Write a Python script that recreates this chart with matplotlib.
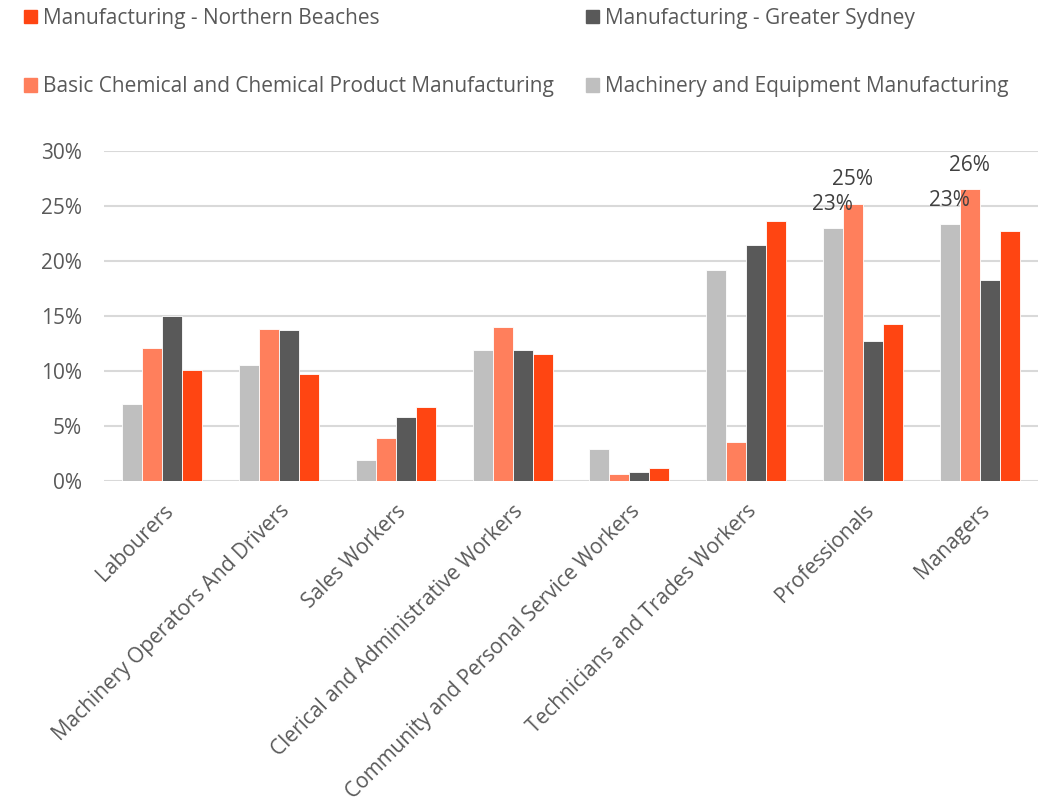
import numpy as np
import matplotlib.pyplot as plt
from matplotlib.patches import Patch
from matplotlib.ticker import PercentFormatter

plt.rcParams['font.family'] = ['Open Sans', 'DejaVu Sans']

# Occupation categories along the x axis
categories = [
    "Labourers",
    "Machinery Operators And Drivers",
    "Sales Workers",
    "Clerical and Administrative Workers",
    "Community and Personal Service Workers",
    "Technicians and Trades Workers",
    "Professionals",
    "Managers",
]

# Share of workforce by occupation (%)
machinery_equipment = [7.0, 10.5, 1.9, 11.9, 2.9, 19.2, 23.0, 23.3]
basic_chemical = [12.1, 13.8, 3.9, 14.0, 0.6, 3.5, 25.2, 26.5]
greater_sydney = [15.0, 13.7, 5.8, 11.9, 0.8, 21.4, 12.7, 18.3]
northern_beaches = [10.1, 9.7, 6.7, 11.5, 1.2, 23.6, 14.3, 22.7]

series_names = [
    "Machinery and Equipment Manufacturing",
    "Basic Chemical and Chemical Product Manufacturing",
    "Manufacturing - Greater Sydney",
    "Manufacturing - Northern Beaches",
]
series_values = [machinery_equipment, basic_chemical, greater_sydney, northern_beaches]
series_colors = ["#BFBFBF", "#FF7F5C", "#595959", "#FF4512"]

# only these bars get a value label
labelled = {(0, 6), (1, 6), (0, 7), (1, 7)}

text_color = "#595959"
fs = 15

fig = plt.figure(figsize=(10.48, 7.99), dpi=100)
ax = fig.add_axes([104 / 1048, 318 / 799, 934 / 1048, 330.3 / 799])

x = np.arange(len(categories))
width = 0.171
offsets = (np.arange(4) - 1.5) * width

for i, (vals, color) in enumerate(zip(series_values, series_colors)):
    bars = ax.bar(x + offsets[i], vals, width, color=color, edgecolor="white",
                  linewidth=0.6, zorder=3)
    for j, b in enumerate(bars):
        if (i, j) in labelled:
            ax.annotate(f"{vals[j]:.0f}%", (b.get_x() + b.get_width() / 2, vals[j]),
                        xytext=(0, 13), textcoords="offset points",
                        ha="center", va="baseline", fontsize=fs, color="#404040",
                        zorder=4)

ax.set_xlim(-0.5, len(categories) - 0.5)
ax.set_ylim(0, 30)
ax.set_yticks(np.arange(0, 31, 5))
ax.yaxis.set_major_formatter(PercentFormatter(decimals=0))
ax.grid(axis="y", color="#D9D9D9", linewidth=1.5, zorder=0)
for s in ax.spines.values():
    s.set_visible(False)
ax.tick_params(axis="both", length=0, labelsize=fs, labelcolor=text_color)
ax.tick_params(axis="y", pad=16)
ax.tick_params(axis="x", pad=14)

ax.set_xticks(x)
ax.set_xticklabels(categories, rotation=45, ha="right", rotation_mode="anchor")

# legend: two rows, two columns
handles = {n: Patch(color=c) for n, c in zip(series_names, series_colors)}
order = [
    "Manufacturing - Northern Beaches",
    "Basic Chemical and Chemical Product Manufacturing",
    "Manufacturing - Greater Sydney",
    "Machinery and Equipment Manufacturing",
]
fig.legend([handles[n] for n in order], order, ncol=2, loc="upper left",
           bbox_to_anchor=(24 / 1048, 1 - 8 / 799), frameon=False, borderpad=0,
           borderaxespad=0, fontsize=fs, labelcolor=text_color,
           handlelength=0.62, handleheight=0.62, handletextpad=0.29,
           labelspacing=2.27, columnspacing=1.54)

fig.savefig("out.png", dpi=100)
